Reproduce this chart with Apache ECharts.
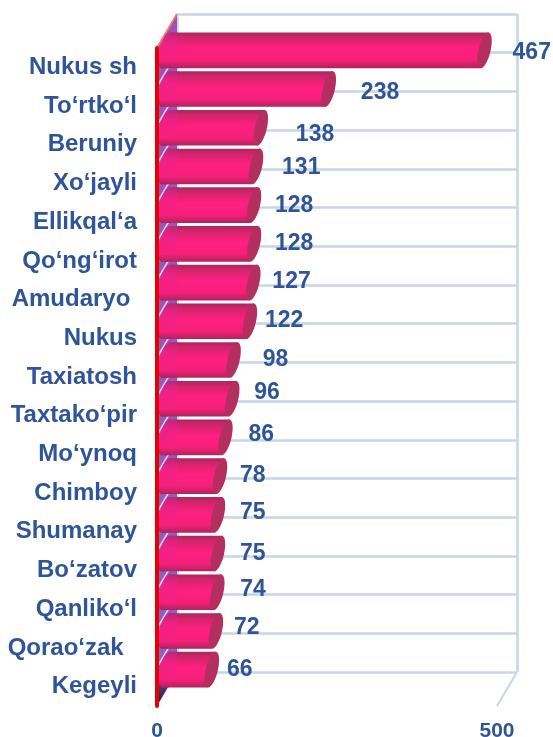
<!DOCTYPE html>
<html><head><meta charset="utf-8">
<style>html,body{margin:0;padding:0;background:#fff}#c{width:553px;height:737px}</style>
<script src="https://cdn.jsdelivr.net/npm/echarts@6/dist/echarts.min.js"></script>
</head><body><div id="c"></div>
<script>
const categories = ['Nukus sh','To‘rtko‘l','Beruniy','Xo‘jayli','Ellikqal‘a','Qo‘ng‘irot','Amudaryo ','Nukus','Taxiatosh','Taxtako‘pir','Mo‘ynoq','Chimboy','Shumanay','Bo‘zatov','Qanliko‘l','Qorao‘zak  ','Kegeyli'];
const values = [467,238,138,131,128,128,127,122,98,96,86,78,75,75,74,72,66];
const valueTicks = [0,500];
// hand placement of the value labels (pixels from the end of each bar)
const labelNudgeX = [22,26,29,20,15,15,13,9,23,16,17,14,16,16,17,12,9];
const labelNudgeY = [2,4,7,1,0,0,-1,-1,0,-6,-3,0,-2,0,-3,-3,0];
const DX = 20, DY = 34; // depth of the 3D box
const blue = '#2F5597', gridBlue = '#C6D6E8';
const indices = categories.map((c,i)=>i);

const wall = (params, api) => {
  const band = api.size([0,1])[1];
  const top = api.coord([0,0])[1]-band/2, bot = api.coord([0,categories.length-1])[1]+band/2;
  const x = api.coord([0,0])[0], xr = api.coord([500,0])[0];
  const kids = [{type:'polygon',shape:{points:[[x,top],[x,bot],[x-DX,bot+DY],[x-DX,top+DY]]},
    style:{fill:new echarts.graphic.LinearGradient(0,0,0,1,[{offset:0,color:'#A050B4'},{offset:0.93,color:'#8A62BC'},{offset:1,color:'#2A1838'}])}}];
  for(let i=1;i<categories.length;i++){
    const y=top+band*i;
    kids.push({type:'line',shape:{x1:x,y1:y,x2:x-DX,y2:y+DY},style:{stroke:'#E4DCF0',lineWidth:1.5}});
  }
  kids.push({type:'line',shape:{x1:x,y1:top,x2:x-DX,y2:top+DY},style:{stroke:'#F0766A',lineWidth:2}});
  kids.push({type:'line',shape:{x1:xr,y1:bot,x2:xr-DX,y2:bot+DY},style:{stroke:gridBlue,lineWidth:2}});
  return {type:'group',children:kids};
};

const bar = (params, api) => {
  const i = api.value(1), v = api.value(0);
  const p = api.coord([v,i]), p0 = api.coord([0,i]);
  const h = api.size([0,1])[1]*0.92, cy = p[1]-DY/2;
  const ex = p[0]+DX/2, sx = p0[0]+DX/2-1.5, t = h*0.12, rx = 6;
  const seam = p0[0]+DX;
  const ry = Math.hypot(h/2,t), rot = -Math.atan2(t,h/2);
  const grad = new echarts.graphic.LinearGradient(0,0,0,1,[
    {offset:0,color:'#A8285E'},{offset:0.15,color:'#D4246C'},{offset:0.45,color:'#FF1F80'},
    {offset:0.78,color:'#F5207A'},{offset:1,color:'#B0245C'}]);
  const gradL = new echarts.graphic.LinearGradient(0,0,0,1,[
    {offset:0,color:'#C02878'},{offset:0.3,color:'#F0208A'},{offset:0.8,color:'#F5207F'},{offset:1,color:'#A82060'}]);
  return {type:'group',children:[
    {type:'ellipse',z2:1,shape:{cx:sx,cy:cy,rx:rx,ry:ry},rotation:rot,originX:sx,originY:cy,style:{fill:gradL}},
    {type:'polygon',z2:2,shape:{points:[[sx+t,cy-h/2],[ex+t,cy-h/2],[ex-t,cy+h/2],[sx-t,cy+h/2]]},style:{fill:grad}},
    {type:'ellipse',z2:3,shape:{cx:ex,cy:cy,rx:rx,ry:ry},rotation:rot,originX:ex,originY:cy,style:{fill:'#B42F60'}},
    {type:'polygon',z2:4,shape:{points:[[sx+t,cy-h/2],[seam,cy-h/2],[seam,cy+h/5],[sx+3,cy+h/2],[sx-t,cy+h/2]]},style:{fill:gradL,opacity:0.7}},
    {type:'text',z2:10,style:{x:ex+rx+labelNudgeX[i],y:cy+labelNudgeY[i],text:String(v),align:'left',verticalAlign:'middle',
      fill:blue,font:'bold 23px "Liberation Sans", Arial, sans-serif'}}
  ]};
};

echarts.init(document.getElementById('c')).setOption({
  animation:false,
  backgroundColor:'#fff',
  grid:[
    {left:177,top:14,width:340,height:658,outerBoundsMode:'none'},
    {left:177-DX,top:14+DY,width:340,height:658,outerBoundsMode:'none'}
  ],
  xAxis:[
    {gridIndex:0,type:'value',min:valueTicks[0],max:valueTicks[1],interval:500,axisLabel:{show:false},axisLine:{show:false},axisTick:{show:false},
     splitLine:{show:true,lineStyle:{color:gridBlue,width:2.5}}},
    {gridIndex:1,type:'value',min:valueTicks[0],max:valueTicks[1],interval:500,axisLine:{show:false},axisTick:{show:false},splitLine:{show:false},
     axisLabel:{margin:15,color:blue,fontFamily:'"Liberation Sans", Arial, sans-serif',fontWeight:'bold',fontSize:21,showMinLabel:true,showMaxLabel:true}}
  ],
  yAxis:[
    {gridIndex:0,type:'category',inverse:true,data:categories,axisLabel:{show:false},axisLine:{show:false},axisTick:{show:false},
     splitLine:{show:true,interval:0,lineStyle:{color:gridBlue,width:2.5}}},
    {gridIndex:1,type:'category',inverse:true,data:categories,axisTick:{show:false},splitLine:{show:false},
     axisLine:{show:true,onZero:false,lineStyle:{color:'#E60000',width:4}},z:5,
     axisLabel:{interval:0,margin:20,color:blue,fontFamily:'"Liberation Sans", Arial, sans-serif',fontWeight:'bold',fontSize:24}}
  ],
  series:[
    {type:'custom',xAxisIndex:0,yAxisIndex:0,renderItem:wall,data:[[0,0]],silent:true,z:1,clip:false},
    {type:'custom',xAxisIndex:1,yAxisIndex:1,renderItem:bar,data:indices.map(i=>[values[i],i]),encode:{x:0,y:1},silent:true,z:3,clip:false}
  ]
});
</script></body></html>
